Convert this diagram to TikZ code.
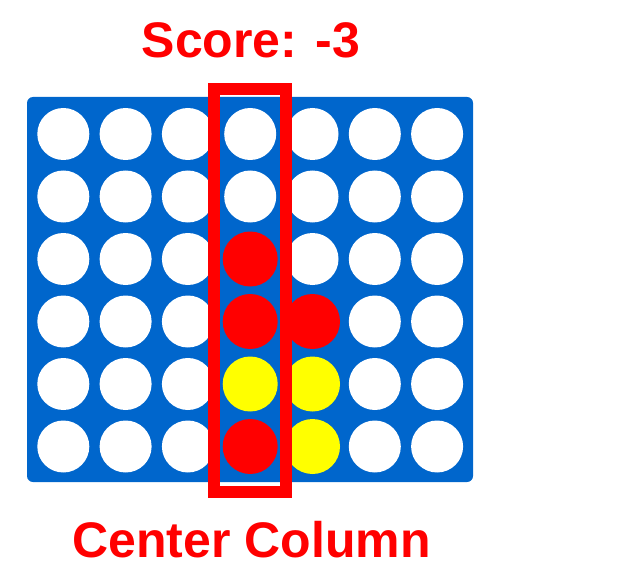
\documentclass[tikz,border=0pt]{standalone}
\usepackage{fontspec}
\setmainfont{Liberation Sans}
\usetikzlibrary{positioning}
\definecolor{boardblue}{HTML}{0066CC}
\definecolor{discred}{HTML}{FF0000}
\definecolor{discyellow}{HTML}{FFFF00}
\tikzset{
  board/.style={rectangle, fill=boardblue, rounded corners=6pt,
    minimum width=446pt, minimum height=385pt, inner sep=0pt},
  hole/.style={circle, fill=white, minimum size=52pt, inner sep=0pt},
  disc/.style={circle, minimum size=55pt, inner sep=0pt},
  reddisc/.style={disc, fill=discred},
  yellowdisc/.style={disc, fill=discyellow},
  colframe/.style={rectangle, draw=discred, line width=12pt,
    minimum width=72pt, minimum height=403pt, inner sep=0pt},
  bigred/.style={font=\fontsize{50}{60}\selectfont\bfseries, text=discred,
    inner sep=0pt},
}

\begin{document}
\begin{tikzpicture}[x=1pt, y=-1pt]
\useasboundingbox (0,0) rectangle (626,580);
% the board and its empty holes
\node[board] (grid) at (250,289.5) {};
\foreach \c in {1,...,7}
  \foreach \r in {1,...,6}
    \node[hole] (h-\c-\r) at ({63.3+62.3*(\c-1)},{134+62.5*(\r-1)}) {};
% discs played so far
\node[reddisc] (d1) at (h-4-3) {};
\node[reddisc] (d2) at (h-4-4) {};
\node[reddisc] (d3) at (h-5-4) {};
\node[yellowdisc] (d4) at (h-4-5) {};
\node[yellowdisc] (d5) at (h-5-5) {};
\node[reddisc] (d6) at (h-4-6) {};
\node[yellowdisc] (d7) at (h-5-6) {};
% the column being scored
\node[colframe] (frame) at (250,290.5) {};
\node[bigred, anchor=base] (score) at (251,58) {Score: -3};
\node[bigred, anchor=base] (caption) at (251.5,557) {Center Column};
\end{tikzpicture}
\end{document}
